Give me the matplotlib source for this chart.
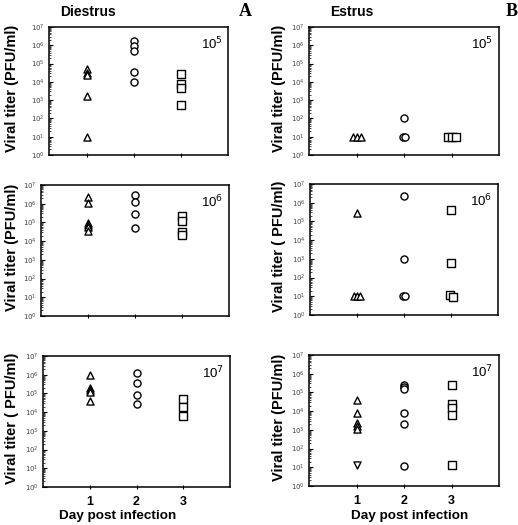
import matplotlib
matplotlib.use("Agg")
import matplotlib.pyplot as plt
import numpy as np
from matplotlib.ticker import LogLocator, FixedLocator, NullFormatter

plt.rcParams['font.family'] = ['Liberation Sans', 'DejaVu Sans']

W, H = 518, 525
fig = plt.figure(figsize=(W / 100, H / 100), dpi=100)

# ---- data: log10 viral titer (PFU/ml), per day; x = day (+ small visual offsets)
# Diestrus, dose 10^5
dA5_day1_x = [1, 1, 1, 1, 1]
dA5_day1 = [4.7, 4.5, 4.35, 3.25, 1.0]
dA5_day2_x = [2, 2, 2, 2, 2]
dA5_day2 = [6.25, 5.98, 5.68, 4.55, 3.98]
dA5_day3_x = [3, 3, 3, 3]
dA5_day3 = [4.45, 3.87, 3.65, 2.75]
# Diestrus, dose 10^6
dA6_day1_x = [1, 1, 1, 1, 1, 1]
dA6_day1 = [6.38, 6.02, 4.95, 4.86, 4.73, 4.54]
dA6_day2_x = [2, 2, 2, 2]
dA6_day2 = [6.46, 6.07, 5.45, 4.71]
dA6_day3_x = [3, 3, 3, 3]
dA6_day3 = [5.37, 5.1, 4.5, 4.33]
# Diestrus, dose 10^7
dA7_day1_x = [1, 1, 1, 1, 1]
dA7_day1 = [5.98, 5.27, 5.18, 5.09, 4.61]
dA7_day2_x = [2, 2, 2, 2]
dA7_day2 = [6.11, 5.57, 4.91, 4.43]
dA7_day3_x = [3, 3, 3]
dA7_day3 = [4.68, 4.25, 3.79]
# Estrus, dose 10^5
eB5_day1_x = [0.93, 1.02, 1.1]
eB5_day1 = [1.0, 1.0, 1.0]
eB5_day2_x = [2.0, 1.98, 2.03]
eB5_day2 = [2.0, 1.0, 1.0]
eB5_day3_x = [2.93, 3.02, 3.1]
eB5_day3 = [1.0, 1.0, 1.0]
# Estrus, dose 10^6
eB6_day1_x = [1.0, 0.93, 1.0, 1.07]
eB6_day1 = [5.44, 1.02, 1.02, 1.02]
eB6_day2_x = [2.0, 2.0, 1.98, 2.03]
eB6_day2 = [6.38, 2.99, 1.02, 1.0]
eB6_day3_x = [3.0, 3.0, 2.97, 3.05]
eB6_day3 = [5.6, 2.8, 1.05, 0.98]
# Estrus, dose 10^7
eB7_day1_x = [1, 1, 1, 1, 1]
eB7_day1 = [4.59, 3.91, 3.34, 3.2, 3.04]
eB7_day1_inv_x = [1]
eB7_day1_inv = [1.11]
eB7_day2_x = [2, 2, 2, 2, 2, 2]
eB7_day2 = [5.4, 5.27, 5.16, 3.91, 3.3, 1.09]
eB7_day3_x = [3, 3, 3, 3, 3]
eB7_day3 = [5.39, 4.36, 4.18, 3.77, 1.11]

days = [1, 2, 3]
day_labels = ['1', '2', '3']
doses = ['5', '6', '7']
y_exps = list(range(0, 8))

# ---- layout (pixel boxes: left, right, top, bottom) ----
boxes = {
    ('A', 0): (49, 228, 27, 155),
    ('A', 1): (41, 229, 185, 316),
    ('A', 2): (43, 230, 356, 487),
    ('B', 0): (309, 499, 27, 155),
    ('B', 1): (310, 498, 184, 315),
    ('B', 2): (309, 499, 355, 486),
}
xlims = {('A', 0): (0.2, 4.0)}

panels = {
    ('A', 0): [(dA5_day1_x, dA5_day1, '^'), (dA5_day2_x, dA5_day2, 'o'), (dA5_day3_x, dA5_day3, 's')],
    ('A', 1): [(dA6_day1_x, dA6_day1, '^'), (dA6_day2_x, dA6_day2, 'o'), (dA6_day3_x, dA6_day3, 's')],
    ('A', 2): [(dA7_day1_x, dA7_day1, '^'), (dA7_day2_x, dA7_day2, 'o'), (dA7_day3_x, dA7_day3, 's')],
    ('B', 0): [(eB5_day1_x, eB5_day1, '^'), (eB5_day2_x, eB5_day2, 'o'), (eB5_day3_x, eB5_day3, 's')],
    ('B', 1): [(eB6_day1_x, eB6_day1, '^'), (eB6_day2_x, eB6_day2, 'o'), (eB6_day3_x, eB6_day3, 's')],
    ('B', 2): [(eB7_day1_x, eB7_day1, '^'), (eB7_day1_inv_x, eB7_day1_inv, 'v'),
               (eB7_day2_x, eB7_day2, 'o'), (eB7_day3_x, eB7_day3, 's')],
}
ylabels = {
    ('A', 0): 'Viral titer (PFU/ml)', ('A', 1): 'Viral titer (PFU/ml)', ('A', 2): 'Viral titer ( PFU/ml)',
    ('B', 0): 'Viral titer (PFU/ml)', ('B', 1): 'Viral titer ( PFU/ml)', ('B', 2): 'Viral titer (PFU/ml)',
}
ylabel_x = {'A': 12, 'B': 279}

for key, (l, r, t, b) in boxes.items():
    ax = fig.add_axes([l / W, 1 - b / H, (r - l) / W, (b - t) / H])
    for xs, ys, m in panels[key]:
        ax.scatter(xs, np.power(10.0, ys), marker=m, s=26, facecolors='white',
                   edgecolors='black', linewidths=1.0, zorder=3)
    ax.set_yscale('log')
    ax.set_ylim(1, 1e7)
    ax.set_xlim(*xlims.get(key, (0, 4)))
    ax.yaxis.set_major_locator(FixedLocator([10.0 ** e for e in y_exps]))
    ax.set_yticklabels([r'$10^{%d}$' % e for e in y_exps], fontsize=5, color='#444444')
    ax.yaxis.set_minor_locator(LogLocator(base=10, subs=np.arange(2, 10), numticks=20))
    ax.yaxis.set_minor_formatter(NullFormatter())
    ax.tick_params(axis='y', which='major', direction='in', length=3, width=0.8, pad=3)
    ax.tick_params(axis='y', which='minor', direction='in', length=1.5, width=0.5)
    ax.set_xticks(days)
    ax.tick_params(axis='x', direction='inout', length=3, width=0.8, pad=5)
    if key[1] == 2:
        ax.set_xticklabels(day_labels, fontsize=9, fontweight='bold')
    else:
        ax.set_xticklabels([])
    for s in ax.spines.values():
        s.set_linewidth(1.1)
    ax.text(0.97, 0.93, r'10$^{%s}$' % doses[key[1]], transform=ax.transAxes,
            ha='right', va='top', fontsize=9.5)
    cy = (t + b) / 2 - 3
    fig.text(ylabel_x[key[0]] / W, 1 - cy / H, ylabels[key], rotation=90,
             ha='center', va='center', fontsize=10.5, fontweight='bold')

fig.text(88 / W, 1 - 12 / H, 'Diestrus', ha='center', va='center', fontsize=10, fontweight='bold')
fig.text(352 / W, 1 - 12 / H, 'Estrus', ha='center', va='center', fontsize=10, fontweight='bold')
fig.text(245 / W, 1 - 11 / H, 'A', ha='center', va='center', fontsize=13, fontweight='bold',
         family=['Liberation Serif', 'DejaVu Serif'])
fig.text(512 / W, 1 - 11 / H, 'B', ha='center', va='center', fontsize=13, fontweight='bold',
         family=['Liberation Serif', 'DejaVu Serif'])
fig.text(118 / W, 1 - 516 / H, 'Day post infection', ha='center', va='center',
         fontsize=9.7, fontweight='bold')
fig.text(410 / W, 1 - 516 / H, 'Day post infection', ha='center', va='center',
         fontsize=9.7, fontweight='bold')

fig.savefig('out.png', dpi=100, facecolor='white')
